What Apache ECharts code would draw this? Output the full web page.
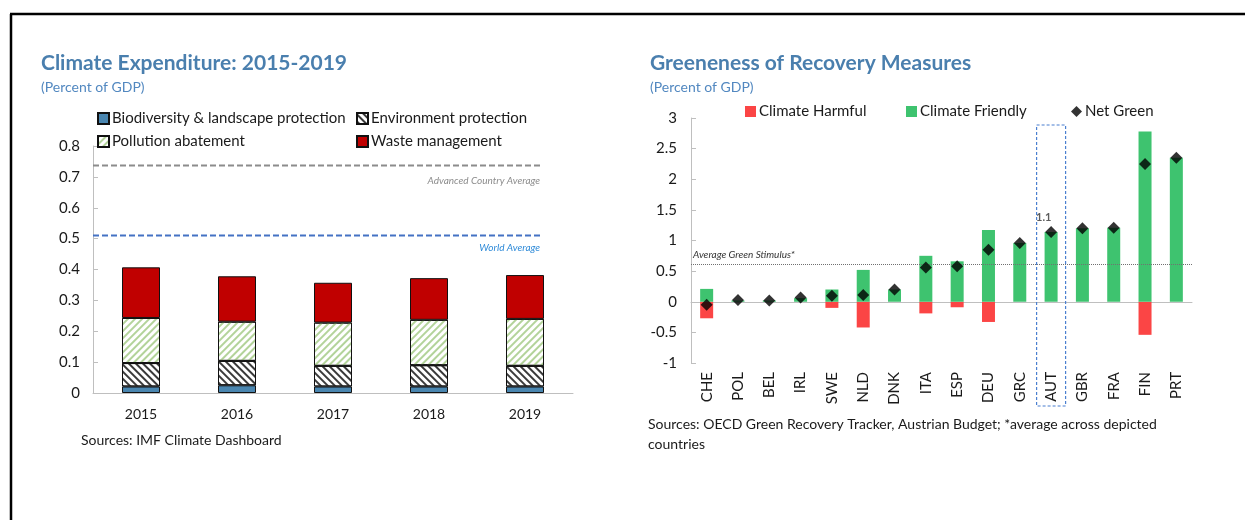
<!DOCTYPE html>
<html>
<head>
<meta charset="utf-8">
<script src="https://cdn.jsdelivr.net/npm/echarts@6/dist/echarts.min.js"></script>
<style>
  html, body { margin: 0; padding: 0; background: #fff; }
  #main { width: 1245px; height: 520px; }
</style>
</head>
<body>
<div id="main"></div>
<script>
// left panel: climate expenditure
var years = ['2015', '2016', '2017', '2018', '2019'];
var biodiversity = [0.021, 0.025, 0.021, 0.021, 0.021];
var environment = [0.076, 0.079, 0.067, 0.069, 0.067];
var pollution = [0.146, 0.127, 0.140, 0.147, 0.152];
var waste = [0.164, 0.147, 0.129, 0.135, 0.142];
var advancedAvg = 0.737;
var worldAvg = 0.51;

// right panel: greeneness of recovery measures
var countries = ['CHE', 'POL', 'BEL', 'IRL', 'SWE', 'NLD', 'DNK', 'ITA', 'ESP', 'DEU', 'GRC', 'AUT', 'GBR', 'FRA', 'FIN', 'PRT'];
var harmful = [-0.27, 0, 0, 0, -0.10, -0.42, 0, -0.19, -0.09, -0.33, 0, 0, 0, 0, -0.54, 0];
var friendly = [0.21, 0.02, 0.02, 0.06, 0.20, 0.52, 0.20, 0.75, 0.66, 1.17, 0.96, 1.14, 1.20, 1.21, 2.78, 2.35];
var netGreen = [-0.05, 0.03, 0.02, 0.07, 0.10, 0.11, 0.20, 0.56, 0.58, 0.85, 0.96, 1.14, 1.20, 1.21, 2.25, 2.35];
var avgGreen = 0.62;

var FONT = 'Lato';
var chart = echarts.init(document.getElementById('main'), null, { renderer: 'canvas' });

function legendItem(name, left, top, icon) {
  return {
    data: [name],
    left: left,
    top: top,
    icon: icon || 'rect',
    itemWidth: 11,
    itemHeight: 11,
    itemGap: 4,
    selectedMode: false,
    textStyle: { fontFamily: FONT, fontSize: 15, color: '#1a1a1a', padding: [0, 0, 0, -2] }
  };
}

var option = {
  animation: false,
  backgroundColor: '#fff',
  title: [
    {
      text: 'Climate Expenditure: 2015-2019',
      subtext: '(Percent of GDP)',
      left: 36, top: 48, itemGap: 6,
      textStyle: { fontFamily: FONT, fontSize: 21, fontWeight: 'bold', color: '#4a7fae' },
      subtextStyle: { fontFamily: FONT, fontSize: 14, color: '#5288c0' }
    },
    {
      text: 'Greeneness of Recovery Measures',
      subtext: '(Percent of GDP)',
      left: 645, top: 48, itemGap: 6,
      textStyle: { fontFamily: FONT, fontSize: 21, fontWeight: 'bold', color: '#4a7fae' },
      subtextStyle: { fontFamily: FONT, fontSize: 14, color: '#5288c0' }
    }
  ],
  legend: [
    legendItem('Biodiversity & landscape protection', 92, 106),
    legendItem('Environment protection', 351, 106),
    legendItem('Pollution abatement', 92, 129),
    legendItem('Waste management', 351, 129),
    legendItem('Climate Harmful', 740, 99),
    legendItem('Climate Friendly', 901, 99),
    legendItem('Net Green', 1066, 99, 'diamond')
  ],
  grid: [
    { left: 93, top: 146, width: 480, height: 247 },
    { left: 691, top: 118, width: 501, height: 245 }
  ],
  xAxis: [
    {
      type: 'category', gridIndex: 0, data: years,
      axisLine: { lineStyle: { color: '#bfbfbf' } },
      axisTick: { inside: true, length: 5, lineStyle: { color: '#d0d0d0' } },
      axisLabel: { fontFamily: FONT, fontSize: 14, color: '#1a1a1a', margin: 14 }
    },
    { type: 'value', gridIndex: 0, min: 0, max: 1, show: false },
    {
      type: 'category', gridIndex: 1, data: countries,
      axisLine: { onZero: true, lineStyle: { color: '#bfbfbf' } },
      axisTick: { length: 4, lineStyle: { color: '#bfbfbf' } },
      axisLabel: { show: false }
    },
    {
      type: 'category', gridIndex: 1, data: countries, position: 'bottom',
      axisLine: { show: false, onZero: false },
      axisTick: { show: false },
      axisLabel: { rotate: 90, fontFamily: FONT, fontSize: 15, color: '#1a1a1a', margin: 9 }
    }
  ],
  yAxis: [
    {
      type: 'value', gridIndex: 0, min: 0, max: 0.8, interval: 0.1,
      splitLine: { show: false },
      axisLine: { show: true, lineStyle: { color: '#bfbfbf' } },
      axisTick: { show: true, inside: true, length: 5, lineStyle: { color: '#bfbfbf' } },
      axisLabel: { fontFamily: FONT, fontSize: 15, color: '#1a1a1a', margin: 13 }
    },
    {
      type: 'value', gridIndex: 1, min: -1, max: 3, interval: 0.5,
      splitLine: { show: false },
      axisLine: { show: true, lineStyle: { color: '#bfbfbf' } },
      axisTick: { show: true, inside: true, length: 5, lineStyle: { color: '#bfbfbf' } },
      axisLabel: { fontFamily: FONT, fontSize: 15, color: '#1a1a1a', margin: 14 }
    }
  ],
  series: [
    {
      name: 'Biodiversity & landscape protection', type: 'bar', stack: 'exp',
      xAxisIndex: 0, yAxisIndex: 0, barWidth: 38, data: biodiversity,
      itemStyle: { color: '#4a86b0', borderColor: '#111', borderWidth: 1 }
    },
    {
      name: 'Environment protection', type: 'bar', stack: 'exp',
      xAxisIndex: 0, yAxisIndex: 0, barWidth: 38, data: environment,
      itemStyle: {
        color: '#fff', borderColor: '#111', borderWidth: 1,
        decal: { symbol: 'rect', symbolSize: 1, dashArrayX: [1, 0], dashArrayY: [2, 3], rotation: Math.PI / 4, color: '#3a3a3a' }
      }
    },
    {
      name: 'Pollution abatement', type: 'bar', stack: 'exp',
      xAxisIndex: 0, yAxisIndex: 0, barWidth: 38, data: pollution,
      itemStyle: {
        color: '#fff', borderColor: '#111', borderWidth: 1,
        decal: { symbol: 'rect', symbolSize: 1, dashArrayX: [1, 0], dashArrayY: [2, 3], rotation: -Math.PI / 4, color: '#b3d39a' }
      }
    },
    {
      name: 'Waste management', type: 'bar', stack: 'exp',
      xAxisIndex: 0, yAxisIndex: 0, barWidth: 38, data: waste,
      itemStyle: { color: '#c00000', borderColor: '#111', borderWidth: 1 }
    },
    {
      name: 'advanced', type: 'line', xAxisIndex: 1, yAxisIndex: 0,
      data: [[0, advancedAvg], { value: [0.9375, advancedAvg], label: { show: true } }],
      symbol: 'circle', symbolSize: 0, silent: true,
      lineStyle: { color: '#8c8c8c', width: 2, type: [6, 3] },
      label: {
        show: false, position: [-3, 10], align: 'right', verticalAlign: 'top',
        formatter: 'Advanced Country Average',
        fontFamily: FONT, fontSize: 10, fontStyle: 'italic', color: '#8c8c8c'
      }
    },
    {
      name: 'world', type: 'line', xAxisIndex: 1, yAxisIndex: 0,
      data: [[0, worldAvg], { value: [0.9375, worldAvg], label: { show: true } }],
      symbol: 'circle', symbolSize: 0, silent: true,
      lineStyle: { color: '#4472c4', width: 2, type: [6, 3] },
      label: {
        show: false, position: [-3, 7], align: 'right', verticalAlign: 'top',
        formatter: 'World Average',
        fontFamily: FONT, fontSize: 10, fontStyle: 'italic', color: '#2e8ad8'
      }
    },
    {
      name: 'Climate Harmful', type: 'bar', stack: 'rec',
      xAxisIndex: 2, yAxisIndex: 1, barWidth: 13, data: harmful,
      itemStyle: { color: '#fb4545' }
    },
    {
      name: 'Climate Friendly', type: 'bar', stack: 'rec',
      xAxisIndex: 2, yAxisIndex: 1, barWidth: 13, data: friendly,
      itemStyle: { color: '#3ec36f' },
      markLine: {
        silent: true, symbol: 'none',
        lineStyle: { color: '#707070', width: 1, type: 'dotted' },
        label: {
          position: 'insideStartTop', formatter: 'Average Green Stimulus*',
          fontFamily: FONT, fontSize: 10, fontStyle: 'italic', color: '#333', distance: [2, 4]
        },
        data: [{ yAxis: avgGreen }]
      }
    },
    {
      name: 'Net Green', type: 'scatter',
      xAxisIndex: 2, yAxisIndex: 1, symbol: 'diamond', symbolSize: [12, 12],
      itemStyle: { color: '#000' },
      z: 5,
      data: netGreen.map(function (v, i) {
        if (countries[i] === 'AUT') {
          return {
            value: v,
            label: {
              show: true, formatter: v.toFixed(1), position: [-9, -14],
              fontFamily: FONT, fontSize: 11, fontWeight: 'bold', color: '#333'
            }
          };
        }
        return v;
      })
    }
  ],
  graphic: [
    { id: 'frameTop', type: 'line', shape: { x1: 10, y1: 14, x2: 1245, y2: 14 }, style: { stroke: '#000', lineWidth: 2.5 } },
    { id: 'frameLeft', type: 'line', shape: { x1: 11, y1: 14, x2: 11, y2: 520 }, style: { stroke: '#000', lineWidth: 2.5 } },
    {
      id: 'src1', type: 'text', left: 81, top: 433,
      style: { text: 'Sources: IMF Climate Dashboard', font: '14px ' + FONT, fill: '#1a1a1a' }
    },
    {
      id: 'src2', type: 'text', left: 648, top: 414,
      style: {
        text: 'Sources: OECD Green Recovery Tracker, Austrian Budget; *average across depicted\ncountries',
        font: '14px ' + FONT, fill: '#1a1a1a', lineHeight: 20
      }
    }
  ]
};

chart.setOption(option);

// dashed box highlighting Austria
var autX = chart.convertToPixel({ xAxisIndex: 2 }, 'AUT');
chart.setOption({
  graphic: [{
    id: 'autBox', type: 'rect',
    shape: { x: autX - 14.5, y: 125, width: 29, height: 281 },
    style: { fill: 'none', stroke: '#4a7fd0', lineWidth: 1.2, lineDash: [3, 2] },
    z: 10
  }]
});
</script>
</body>
</html>
